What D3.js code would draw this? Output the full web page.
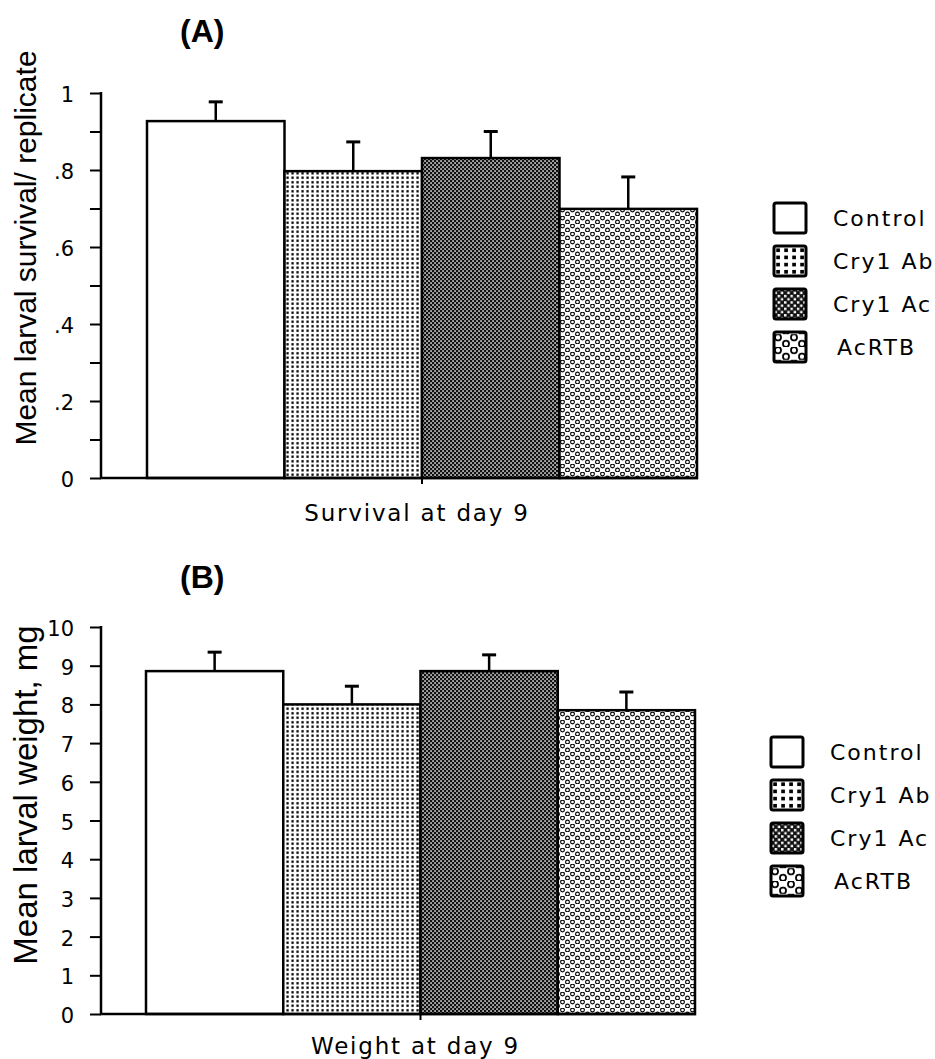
<!DOCTYPE html>
<html>
<head>
<meta charset="utf-8">
<script src="https://cdn.jsdelivr.net/npm/d3@7"></script>
<style>
  body { margin: 0; background: #fff; }
  .tick-label, .x-title, .legend-text { font-family: "DejaVu Sans", sans-serif; fill: #000; }
  .y-title { font-family: "Liberation Sans", Arial, sans-serif; fill: #000; }
  .panel-title { font-family: "Liberation Sans", Arial, sans-serif; font-weight: bold; fill: #000; }
</style>
</head>
<body>
<script>
// DATA //
const groups = ['Control', 'Cry1 Ab', 'Cry1 Ac', 'AcRTB'];

const survivalMean = [0.927, 0.797, 0.831, 0.699];
const survivalErr = [0.050, 0.076, 0.069, 0.083];
const survivalTicks = [0, 0.2, 0.4, 0.6, 0.8, 1];
const survivalTickLabels = ['0', '.2', '.4', '.6', '.8', '1'];
const survivalMinor = [0.1, 0.3, 0.5, 0.7, 0.9];

const weightMean = [8.86, 8.0, 8.86, 7.85];
const weightErr = [0.49, 0.47, 0.42, 0.47];
const weightTicks = [0, 1, 2, 3, 4, 5, 6, 7, 8, 9, 10];
const weightTickLabels = ['0', '1', '2', '3', '4', '5', '6', '7', '8', '9', '10'];

const svg = d3.select('body')
    .append('svg')
    .attr('width', 935)
    .attr('height', 1059);

// PATTERNS //
const defs = svg.append('defs');

function makePatterns(suffix, scale) {
    // fine dots (Cry1 Ab)
    const p1 = defs.append('pattern')
        .attr('id', 'dots' + suffix)
        .attr('patternUnits', 'userSpaceOnUse')
        .attr('width', 5).attr('height', 4.5)
        .attr('patternTransform', `scale(${scale})`);
    p1.append('rect').attr('width', 5).attr('height', 4.5).attr('fill', '#fff');
    p1.append('rect').attr('x', 1.4).attr('y', 1.1).attr('width', 2.3).attr('height', 2.3).attr('fill', '#000');

    // dark checker (Cry1 Ac)
    const p2 = defs.append('pattern')
        .attr('id', 'dark' + suffix)
        .attr('patternUnits', 'userSpaceOnUse')
        .attr('width', 4).attr('height', 4)
        .attr('patternTransform', `scale(${scale})`);
    p2.append('rect').attr('width', 4).attr('height', 4).attr('fill', '#111');
    p2.append('rect').attr('x', 0.3).attr('y', 0.3).attr('width', 1.5).attr('height', 1.5).attr('fill', '#fff');
    p2.append('rect').attr('x', 2.3).attr('y', 2.3).attr('width', 1.5).attr('height', 1.5).attr('fill', '#fff');

    // rings (AcRTB)
    const p3 = defs.append('pattern')
        .attr('id', 'rings' + suffix)
        .attr('patternUnits', 'userSpaceOnUse')
        .attr('width', 10).attr('height', 8)
        .attr('patternTransform', `scale(${scale})`);
    p3.append('rect').attr('width', 10).attr('height', 8).attr('fill', '#fff');
    [[2.5, 2], [7.5, 6]].forEach(function (c) {
        p3.append('circle')
            .attr('cx', c[0]).attr('cy', c[1]).attr('r', 1.9)
            .attr('fill', 'none').attr('stroke', '#000').attr('stroke-width', 1.1);
    });
}
makePatterns('', 1);
makePatterns('L', 1.6);

const fills = ['#fff', 'url(#dots)', 'url(#dark)', 'url(#rings)'];
const legendFills = ['#fff', 'url(#dotsL)', 'url(#darkL)', 'url(#ringsL)'];

// PANEL //
function drawPanel(p) {
    const g = svg.append('g');

    const x = d3.scaleBand()
        .domain(groups)
        .range(p.xRange)
        .padding(0);

    const y = d3.scaleLinear()
        .domain(p.domain)
        .range(p.yRange);

    // bars
    g.selectAll('.bar')
        .data(groups)
        .join('rect')
        .attr('x', d => x(d))
        .attr('y', (d, i) => y(p.mean[i]))
        .attr('width', x.bandwidth())
        .attr('height', (d, i) => y(0) - y(p.mean[i]))
        .attr('fill', (d, i) => fills[i])
        .attr('stroke', '#000')
        .attr('stroke-width', 2.5);

    // error bars
    g.selectAll('.err')
        .data(groups)
        .join('line')
        .attr('x1', d => x(d) + x.bandwidth() / 2)
        .attr('x2', d => x(d) + x.bandwidth() / 2)
        .attr('y1', (d, i) => y(p.mean[i]))
        .attr('y2', (d, i) => y(p.mean[i] + p.err[i]))
        .attr('stroke', '#000')
        .attr('stroke-width', 2.5);
    g.selectAll('.cap')
        .data(groups)
        .join('line')
        .attr('x1', d => x(d) + x.bandwidth() / 2 - 7)
        .attr('x2', d => x(d) + x.bandwidth() / 2 + 7)
        .attr('y1', (d, i) => y(p.mean[i] + p.err[i]))
        .attr('y2', (d, i) => y(p.mean[i] + p.err[i]))
        .attr('stroke', '#000')
        .attr('stroke-width', 3);

    // y axis
    const yAxis = d3.axisLeft(y)
        .tickValues(p.ticks.concat(p.minor || []))
        .tickSize(11)
        .tickFormat('');
    const ya = g.append('g')
        .attr('transform', `translate(${p.axisX},0)`)
        .call(yAxis);
    ya.select('.domain').remove();
    ya.selectAll('line').attr('stroke-width', 2);
    g.append('line')
        .attr('x1', p.axisX).attr('x2', p.axisX)
        .attr('y1', y(p.domain[1]) - 1).attr('y2', y(0) + 1)
        .attr('stroke', '#000').attr('stroke-width', 2.5);

    g.selectAll('.tick-label')
        .data(p.ticks)
        .join('text')
        .attr('class', 'tick-label')
        .attr('x', p.axisX - 27)
        .attr('y', d => y(d) + 9)
        .attr('text-anchor', 'end')
        .style('font-size', '21px')
        .text((d, i) => p.tickLabels[i]);

    // x axis
    g.append('line')
        .attr('x1', p.axisX - 1).attr('x2', p.xRange[1] + 1)
        .attr('y1', y(0)).attr('y2', y(0))
        .attr('stroke', '#000').attr('stroke-width', 2.5);
    const mid = (p.xRange[0] + p.xRange[1]) / 2;
    g.append('line')
        .attr('x1', mid).attr('x2', mid)
        .attr('y1', y(0)).attr('y2', y(0) + 6)
        .attr('stroke', '#000').attr('stroke-width', 2);

    g.append('text')
        .attr('class', 'x-title')
        .attr('x', mid - 5)
        .attr('y', p.xTitleY)
        .attr('text-anchor', 'middle')
        .style('font-size', '23px')
        .style('letter-spacing', '1.8px')
        .text(p.xTitle);

    g.append('text')
        .attr('class', 'y-title')
        .attr('transform', `translate(${p.yTitleX},${p.yTitleCY}) rotate(-90)`)
        .attr('text-anchor', 'middle')
        .style('font-size', p.yTitleSize + 'px')
        .text(p.yTitle);

    g.append('text')
        .attr('class', 'panel-title')
        .attr('x', p.titleX)
        .attr('y', p.titleY)
        .style('font-size', '32px')
        .text(p.title);

    // legend
    const lg = g.append('g')
        .selectAll('g')
        .data(groups)
        .join('g')
        .attr('transform', (d, i) => `translate(${p.legendX},${p.legendY + i * 43})`);
    lg.append('rect')
        .attr('x', 0).attr('y', -15)
        .attr('width', 32).attr('height', 30)
        .attr('rx', 2)
        .attr('fill', (d, i) => legendFills[i])
        .attr('stroke', '#000')
        .attr('stroke-width', 3);
    lg.append('text')
        .attr('class', 'legend-text')
        .attr('x', (d, i) => i === 3 ? 63 : 59)
        .attr('y', 8)
        .style('font-size', '22px')
        .style('letter-spacing', '2px')
        .text(d => d);
}

drawPanel({
    title: '(A)', titleX: 180, titleY: 42,
    domain: [0, 1], yRange: [478, 93], xRange: [147, 697], axisX: 101,
    mean: survivalMean, err: survivalErr,
    ticks: survivalTicks, tickLabels: survivalTickLabels, minor: survivalMinor,
    xTitle: 'Survival at day 9', xTitleY: 521,
    yTitle: 'Mean larval survival/ replicate', yTitleX: 36, yTitleCY: 248, yTitleSize: 30,
    legendX: 774, legendY: 218
});

drawPanel({
    title: '(B)', titleX: 180, titleY: 588,
    domain: [0, 10], yRange: [1014, 627], xRange: [146, 695], axisX: 101,
    mean: weightMean, err: weightErr,
    ticks: weightTicks, tickLabels: weightTickLabels,
    xTitle: 'Weight at day 9', xTitleY: 1054,
    yTitle: 'Mean larval weight, mg', yTitleX: 37, yTitleCY: 795, yTitleSize: 33,
    legendX: 771, legendY: 752
});
</script>
</body>
</html>
